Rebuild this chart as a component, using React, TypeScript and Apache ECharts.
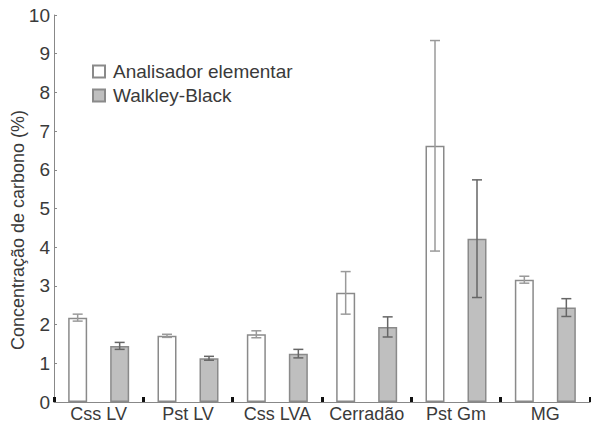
import React, { useEffect, useRef } from "react";
import * as echarts from "echarts";

const categories = ["Css LV", "Pst LV", "Css LVA", "Cerradão", "Pst Gm", "MG"];
const seriesNames = ["Analisador elementar", "Walkley-Black"];
const analisadorValues = [2.18, 1.71, 1.75, 2.82, 6.62, 3.16];
const analisadorErrors = [0.09, 0.04, 0.09, 0.55, 2.72, 0.09];
const walkleyValues = [1.45, 1.13, 1.25, 1.94, 4.22, 2.44];
const walkleyErrors = [0.09, 0.05, 0.11, 0.26, 1.52, 0.23];
const yTicks = [0, 1, 2, 3, 4, 5, 6, 7, 8, 9, 10];

const FONT = "'Liberation Sans', Arial, Helvetica, sans-serif";
const TEXT = "#3a3a3a";
const BAR_W = 19;
const GAP = 23;
const OFFSET = (BAR_W + GAP) / 2;

function errorSeries(values: number[], errors: number[], sign: number, color: string) {
  return {
    type: "custom",
    z: 5,
    silent: true,
    data: values.map((v, i) => [i, v - errors[i], v + errors[i]]),
    renderItem: (params: any, api: any) => {
      const idx = api.value(0);
      const lo = api.coord([idx, api.value(1)]);
      const hi = api.coord([idx, api.value(2)]);
      const x = lo[0] + sign * OFFSET;
      const cap = 5;
      const style = { stroke: color, lineWidth: 1.5 };
      return {
        type: "group",
        children: [
          { type: "line", shape: { x1: x, y1: lo[1], x2: x, y2: hi[1] }, style },
          { type: "line", shape: { x1: x - cap, y1: hi[1], x2: x + cap, y2: hi[1] }, style },
          { type: "line", shape: { x1: x - cap, y1: lo[1], x2: x + cap, y2: lo[1] }, style },
        ],
      };
    },
  };
}

export default function App() {
  const ref = useRef<HTMLDivElement>(null);
  useEffect(() => {
    if (!ref.current) return;
    const chart = echarts.init(ref.current, undefined, { renderer: "svg" });
    chart.setOption({
      animation: false,
      backgroundColor: "#ffffff",
      textStyle: { fontFamily: FONT },
      grid: { left: 54, right: 1, top: 15, bottom: 20, containLabel: false },
      legend: {
        data: seriesNames,
        orient: "vertical",
        left: 87,
        top: 57,
        icon: "rect",
        itemWidth: 12,
        itemHeight: 12,
        itemGap: 5,
        textStyle: { fontSize: 19, color: TEXT, fontFamily: FONT, padding: [0, 0, 0, 3] },
      },
      xAxis: {
        type: "category",
        data: categories,
        axisLine: { lineStyle: { color: "#888", width: 1 } },
        axisTick: { show: true, inside: true, interval: 0, length: 5, lineStyle: { color: "#111", width: 3 } },
        axisLabel: { fontSize: 18, color: TEXT, margin: 3, interval: 0, fontFamily: FONT },
        splitLine: { show: false },
      },
      yAxis: {
        type: "value",
        min: yTicks[0],
        max: yTicks[yTicks.length - 1],
        interval: 1,
        axisLine: { show: true, lineStyle: { color: "#888", width: 1 } },
        axisTick: { show: true, inside: true, length: 3, lineStyle: { color: "#888" } },
        axisLabel: { fontSize: 19, color: TEXT, margin: 4, fontFamily: FONT },
        splitLine: { show: false },
      },
      graphic: [
        {
          type: "text",
          x: 9,
          y: 230,
          rotation: Math.PI / 2,
          style: {
            text: "Concentração de carbono (%)",
            font: `18px ${FONT}`,
            fill: TEXT,
            align: "center",
            verticalAlign: "top",
          },
        },
      ],
      series: [
        {
          name: seriesNames[0],
          type: "bar",
          data: analisadorValues,
          barWidth: BAR_W,
          barGap: `${(GAP / BAR_W) * 100}%`,
          itemStyle: { color: "#ffffff", borderColor: "#8a8a8a", borderWidth: 1.5 },
        },
        {
          name: seriesNames[1],
          type: "bar",
          data: walkleyValues,
          barWidth: BAR_W,
          barGap: `${(GAP / BAR_W) * 100}%`,
          itemStyle: { color: "#bfbfbf", borderColor: "#8a8a8a", borderWidth: 1.5 },
        },
        errorSeries(analisadorValues, analisadorErrors, -1, "#9a9a9a"),
        errorSeries(walkleyValues, walkleyErrors, 1, "#666666"),
      ],
    });
    return () => chart.dispose();
  }, []);
  return (
    <div
      ref={ref}
      style={{ position: "fixed", left: 0, top: 0, width: 591, height: 423, background: "#fff" }}
    />
  );
}
